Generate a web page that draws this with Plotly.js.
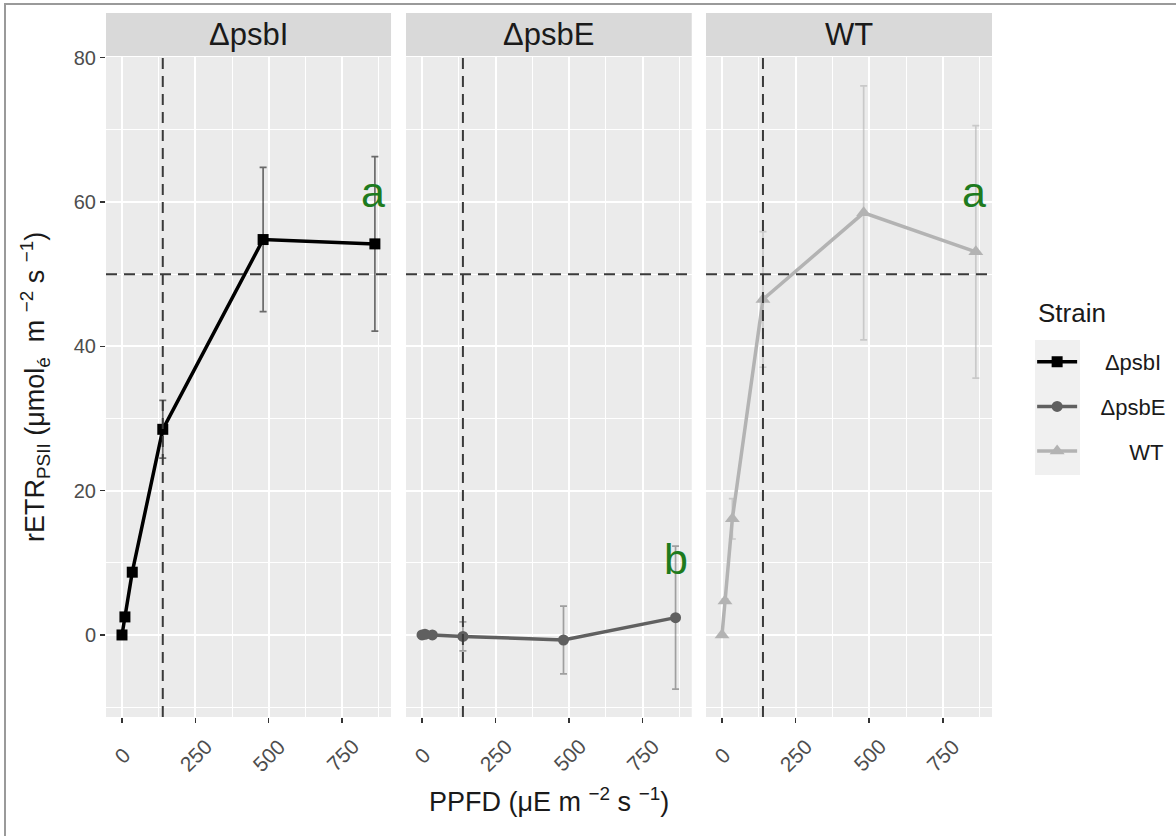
<!DOCTYPE html>
<html><head><meta charset="utf-8">
<script src="https://cdn.plot.ly/plotly-3.0.1.min.js"></script>
<style>
body{margin:0;background:#fff}
#chart{width:1176px;height:836px}
#frame{position:absolute;left:4px;top:3px;width:1172px;height:833px;border-top:2px solid #9a9a9a;border-left:2px solid #9a9a9a;pointer-events:none;box-sizing:border-box}
</style>
</head><body>
<div id="chart"></div><div id="frame"></div>
<script>
// ---- data ----
const strains = ['ΔpsbI', 'ΔpsbE', 'WT'];
const ppfd = [0, 10, 35, 139, 481, 862];
const etrPsbI = [0, 2.5, 8.7, 28.5, 54.8, 54.2];
const sdPsbI  = [0, 0.3, 0.5, 4.0, 10.0, 12.1];
const etrPsbE = [0, 0.1, 0.0, -0.2, -0.7, 2.4];
const sdPsbE  = [0, 0.1, 0.2, 2.0, 4.7, 9.9];
const etrWT   = [0, 4.7, 16.1, 46.5, 58.5, 53.1];
const sdWT    = [0, 0.3, 2.8, 9.4, 17.6, 17.5];
const sigLetters = ['a', 'b', 'a'];
const letterPPFD = [856, 862, 857];
const letterETR  = [61.4, 10.5, 61.4];
const refPPFD = 139;   // vertical dashed reference
const refETR = 50;     // horizontal dashed reference
const xTicks = [0, 250, 500, 750];
const xTickLabels = ['0', '250', '500', '750'];
const yTicks = [0, 20, 40, 60, 80];
const legendTitle = 'Strain';

// ---- styling ----
const FONT = 'Liberation Sans, Arial, Helvetica, sans-serif';
const lineColors = ['#000000', '#606060', '#b3b3b3'];
const errColors = ['rgba(0,0,0,0.55)', 'rgba(96,96,96,0.55)', 'rgba(179,179,179,0.6)'];
const symbols = ['square', 'circle', 'triangle-up'];
const msize = [11, 11, 13];
// padding so the legend labels look right-aligned as in the reference
const legendPad = ['\u00a0\u00a0\u00a0\u2009', '\u00a0\u00a0\u00a0', '\u00a0\u00a0\u00a0\u00a0\u00a0\u00a0\u00a0\u2009'];
const ys = [etrPsbI, etrPsbE, etrWT];
const sds = [sdPsbI, sdPsbE, sdWT];
const xaxNames = ['x', 'x2', 'x3'];
const domains = [[0, 0.3217], [0.3386, 0.6611], [0.6772, 1]];

const traces = strains.map((s, i) => ({
  type: 'scatter', mode: 'lines+markers', name: legendPad[i] + s,
  legendgroup: 'g' + i,
  x: ppfd, y: ys[i],
  xaxis: xaxNames[i], yaxis: 'y',
  line: {color: lineColors[i], width: 3.5},
  marker: {symbol: symbols[i], size: msize[i], color: lineColors[i]},
  error_y: {type: 'data', array: sds[i], visible: true, color: errColors[i], thickness: 1.7, width: 3.5},
  hoverinfo: 'x+y'
}));

function xax(i) {
  return {
    domain: domains[i], anchor: 'y', range: [-54.5, 917],
    tickmode: 'array', tickvals: xTicks, showticklabels: false,
    ticks: 'outside', ticklen: 5, tickwidth: 1.5, tickcolor: '#333333',
    showgrid: true, gridcolor: '#ffffff', gridwidth: 2,
    minor: {tickmode: 'linear', tick0: 0, dtick: 125, showgrid: true, gridcolor: '#ffffff', gridwidth: 1, ticks: ''},
    zeroline: false, showline: false, fixedrange: true
  };
}

const shapes = [];
const annotations = [];
xaxNames.forEach((xa, i) => {
  shapes.push({type: 'rect', xref: xa + ' domain', yref: 'paper', x0: 0, x1: 1, y0: 1.0015, y1: 1.0667,
    fillcolor: '#d9d9d9', line: {width: 0}, layer: 'above'});
  annotations.push({xref: xa + ' domain', yref: 'paper', x: 0.5, y: 1.034, text: strains[i], showarrow: false,
    xanchor: 'center', yanchor: 'middle', font: {family: FONT, size: 31, color: '#1a1a1a'}});
  shapes.push({type: 'line', xref: xa, yref: 'y domain', x0: refPPFD, x1: refPPFD, y0: 0, y1: 1,
    line: {color: '#3a3a3a', width: 2, dash: '11px,7px'}, layer: 'above'});
  shapes.push({type: 'line', xref: xa + ' domain', yref: 'y', x0: 0, x1: 1, y0: refETR, y1: refETR,
    line: {color: '#3a3a3a', width: 2, dash: '11px,7px'}, layer: 'above'});
  annotations.push({xref: xa, yref: 'y', x: letterPPFD[i], y: letterETR[i], text: sigLetters[i], showarrow: false,
    xanchor: 'center', yanchor: 'middle', font: {family: FONT, size: 43, color: '#1e7b1e'}});
  // rotated x tick labels, centred under each tick (ggplot style)
  xTicks.forEach((t, k) => {
    annotations.push({xref: xa, yref: 'paper', x: t, y: -0.0576, text: xTickLabels[k], showarrow: false,
      textangle: -45, xanchor: 'center', yanchor: 'middle',
      font: {family: FONT, size: 21, color: '#4d4d4d'}});
  });
});
// legend key background
shapes.push({type: 'rect', xref: 'paper', yref: 'paper', x0: 1.0485, x1: 1.0993, y0: 0.3667, y1: 0.5712,
  fillcolor: '#f0f0f0', line: {width: 0}, layer: 'below'});

// legend title
annotations.push({xref: 'paper', yref: 'paper', x: 1.0497, y: 0.612, showarrow: false, text: legendTitle,
  xanchor: 'left', yanchor: 'middle', font: {family: FONT, size: 26, color: '#1a1a1a'}});

// axis titles
annotations.push({xref: 'paper', yref: 'paper', x: 0.5, y: -0.1258, showarrow: false,
  text: 'PPFD (μE m <sup>−2</sup> s <sup>−1</sup>)', xanchor: 'center', yanchor: 'middle',
  font: {family: FONT, size: 27, color: '#1a1a1a'}});
annotations.push({xref: 'paper', yref: 'paper', x: -0.0801, y: 0.5, showarrow: false, textangle: -90,
  text: 'rETR<sub>PSII</sub> (μmol<sub>é</sub>\u00a0\u00a0m <sup>−2</sup> s <sup>−1</sup>)', xanchor: 'center', yanchor: 'middle',
  font: {family: FONT, size: 27, color: '#1a1a1a'}});

const layout = {
  width: 1176, height: 836,
  margin: {l: 106, r: 184, t: 57, b: 119, autoexpand: false},
  paper_bgcolor: '#ffffff', plot_bgcolor: '#ebebeb',
  font: {family: FONT},
  showlegend: true,
  legend: {
    x: 1.0453, y: 0.5697, xanchor: 'left', yanchor: 'top',
    font: {family: FONT, size: 22, color: '#1a1a1a'},
    bgcolor: 'rgba(0,0,0,0)', tracegroupgap: 13, itemwidth: 40
  },
  xaxis: xax(0), xaxis2: xax(1), xaxis3: xax(2),
  yaxis: {
    domain: [0, 1], anchor: 'x', range: [-11.37, 80.1],
    tickmode: 'array', tickvals: yTicks, ticktext: yTicks.map(String),
    ticks: 'outside', ticklen: 5, tickwidth: 1.5, tickcolor: '#333333',
    tickfont: {family: FONT, size: 20, color: '#4d4d4d'},
    showgrid: true, gridcolor: '#ffffff', gridwidth: 2,
    minor: {tickmode: 'linear', tick0: -10, dtick: 10, showgrid: true, gridcolor: '#ffffff', gridwidth: 1, ticks: ''},
    zeroline: false, showline: false, fixedrange: true
  },
  shapes: shapes,
  annotations: annotations
};

Plotly.newPlot('chart', traces, layout, {displayModeBar: false, staticPlot: true});
</script>
</body></html>
